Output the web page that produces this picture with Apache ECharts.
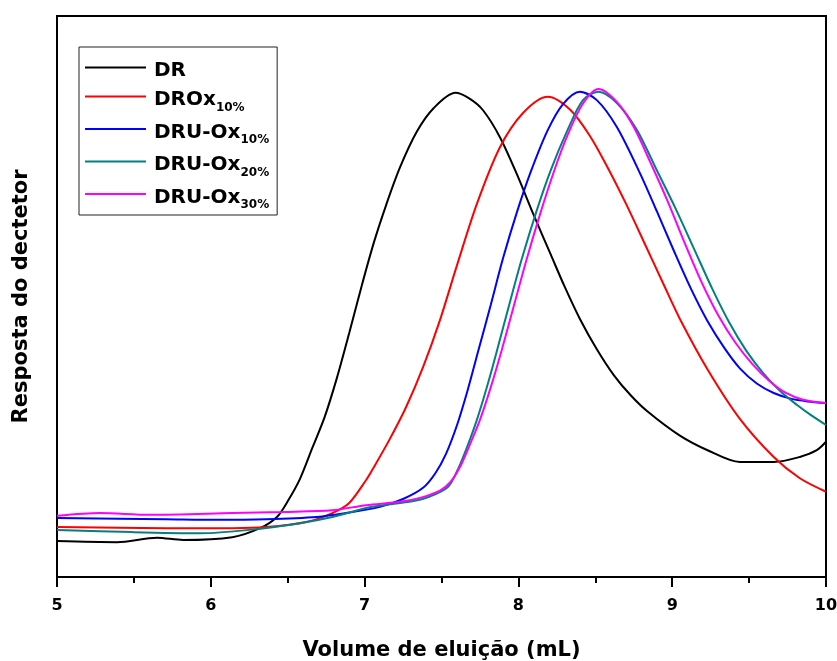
<!DOCTYPE html>
<html>
<head>
<meta charset="utf-8">
<script src="https://cdn.jsdelivr.net/npm/echarts@6/dist/echarts.min.js"></script>
<style>
  html, body { margin: 0; padding: 0; background: #fff; }
  #chart { width: 837px; height: 661px; }
</style>
</head>
<body>
<div id="chart"></div>
<script>
// Elution volume (mL) vs detector response (a.u.) for each sample
var drCurve = [[5.00,6.4],[5.39,6.2],[5.65,7.0],[5.82,6.6],[6.14,7.1],[6.32,8.7],[6.43,10.7],[6.50,13.5],[6.58,17.5],[6.66,23.0],[6.74,28.5],[6.82,35.5],[6.90,43.5],[6.98,51.8],[7.06,59.6],[7.14,66.3],[7.23,73.0],[7.34,79.4],[7.45,83.6],[7.59,86.3],[7.68,85.3],[7.77,83.2],[7.88,78.4],[7.99,71.8],[8.10,64.5],[8.21,57.5],[8.30,51.8],[8.40,46.0],[8.51,40.6],[8.62,36.0],[8.73,32.4],[8.84,29.5],[9.05,25.2],[9.23,22.6],[9.44,20.5],[9.66,20.5],[9.83,21.4],[9.94,22.6],[10.00,24.1]];
var droxCurve = [[5.00,8.9],[5.71,8.7],[6.14,8.7],[6.36,8.9],[6.62,9.8],[6.79,11.4],[6.90,13.2],[7.01,17.3],[7.05,19.1],[7.16,24.4],[7.27,30.3],[7.38,37.4],[7.49,45.8],[7.60,55.5],[7.73,66.5],[7.88,76.6],[8.03,82.7],[8.19,85.6],[8.34,83.2],[8.47,78.4],[8.58,73.0],[8.70,66.5],[8.82,59.5],[8.94,52.4],[9.05,46.0],[9.23,37.0],[9.44,28.2],[9.66,21.4],[9.83,17.6],[10.00,15.2]];
var druOx10Curve = [[5.00,10.5],[5.71,10.3],[6.04,10.2],[6.36,10.3],[6.69,10.7],[6.88,11.4],[7.10,12.5],[7.25,13.9],[7.38,15.9],[7.46,18.5],[7.53,22.0],[7.60,27.0],[7.67,33.3],[7.74,40.4],[7.82,48.5],[7.90,56.8],[7.99,65.0],[8.08,72.2],[8.19,79.6],[8.29,84.3],[8.40,86.5],[8.51,85.0],[8.64,80.2],[8.79,72.0],[8.90,65.2],[9.01,58.2],[9.12,51.5],[9.23,45.6],[9.34,40.8],[9.44,37.2],[9.55,34.5],[9.66,32.8],[9.77,31.8],[9.88,31.3],[10.00,31.0]];
var druOx20Curve = [[5.00,8.4],[5.49,8.0],[5.93,7.8],[6.25,8.4],[6.58,9.6],[6.79,10.7],[7.01,12.3],[7.12,12.8],[7.31,13.5],[7.42,14.3],[7.54,16.0],[7.60,18.8],[7.66,22.7],[7.73,28.0],[7.80,34.3],[7.87,41.3],[7.94,48.5],[8.02,56.5],[8.12,65.4],[8.21,72.5],[8.32,79.7],[8.42,85.0],[8.52,86.5],[8.64,84.5],[8.77,79.7],[8.90,72.5],[9.02,65.8],[9.15,58.0],[9.26,51.4],[9.37,45.4],[9.48,40.4],[9.59,36.4],[9.70,33.2],[9.81,30.7],[9.90,28.9],[10.00,27.1]];
var druOx30Curve = [[5.00,10.9],[5.28,11.4],[5.60,11.1],[6.14,11.4],[6.47,11.6],[6.79,11.9],[7.01,12.8],[7.23,13.4],[7.36,14.1],[7.49,15.4],[7.56,17.0],[7.62,19.6],[7.68,23.3],[7.75,28.0],[7.82,33.8],[7.89,40.3],[7.97,48.3],[8.05,56.3],[8.14,64.6],[8.23,72.2],[8.32,78.8],[8.42,84.4],[8.52,87.0],[8.64,84.7],[8.75,80.2],[8.86,73.8],[8.97,67.0],[9.08,59.6],[9.19,52.6],[9.30,46.6],[9.41,41.8],[9.52,38.0],[9.63,35.0],[9.74,32.8],[9.85,31.6],[10.00,31.0]];

var sampleBase = ['DR', 'DROx', 'DRU-Ox', 'DRU-Ox', 'DRU-Ox'];
var sampleSub = ['', '10%', '10%', '20%', '30%'];
var sampleColors = ['#000000', '#ff0000', '#0000ff', '#008080', '#ff00ff'];
var sampleCurves = [drCurve, droxCurve, druOx10Curve, druOx20Curve, druOx30Curve];

var xTicks = { min: 5, max: 10, interval: 1 };
var xTitle = 'Volume de eluição (mL)';
var yTitle = 'Resposta do dectetor';

var FONT = 'DejaVu Sans';

var seriesNames = sampleBase.map(function (b, i) { return b + sampleSub[i]; });

var series = sampleCurves.map(function (curve, i) {
  return {
    name: seriesNames[i],
    type: 'line',
    data: curve,
    symbol: 'none',
    smooth: 0.3,
    lineStyle: { color: sampleColors[i], width: 2 },
    itemStyle: { color: sampleColors[i] },
    z: 2 + i
  };
});

var chart = echarts.init(document.getElementById('chart'), null, { renderer: 'canvas' });

chart.setOption({
  animation: false,
  backgroundColor: '#ffffff',
  grid: {
    left: 57, right: 11, top: 16, bottom: 84,
    outerBoundsMode: 'none',
    containLabel: false,
    show: true, borderColor: '#000', borderWidth: 2, backgroundColor: 'transparent'
  },
  legend: {
    orient: 'vertical',
    left: 79, top: 47,
    padding: [7, 8, 4, 6],
    borderColor: '#222',
    borderWidth: 1,
    icon: 'rect',
    itemWidth: 61,
    itemHeight: 2,
    itemGap: 2,
    selectedMode: false,
    data: seriesNames,
    formatter: function (name) {
      var i = seriesNames.indexOf(name);
      if (!sampleSub[i]) {
        return '{solo|' + sampleBase[i] + '}';
      }
      return '{main|' + sampleBase[i] + '}{sub|' + sampleSub[i] + '}';
    },
    textStyle: {
      color: '#000',
      fontFamily: FONT,
      fontWeight: 'bold',
      fontSize: 20,
      rich: {
        solo: {
          fontFamily: FONT, fontWeight: 'bold', fontSize: 20, color: '#000',
          lineHeight: 16, padding: [7, 0, 0, 3]
        },
        main: {
          fontFamily: FONT, fontWeight: 'bold', fontSize: 20, color: '#000',
          lineHeight: 34, padding: [7, 0, 0, 3]
        },
        sub: {
          fontFamily: FONT, fontWeight: 'bold', fontSize: 12, color: '#000',
          lineHeight: 8, verticalAlign: 'bottom'
        }
      }
    }
  },
  xAxis: {
    type: 'value',
    min: xTicks.min,
    max: xTicks.max,
    interval: xTicks.interval,
    name: xTitle,
    nameLocation: 'middle',
    nameGap: 63,
    nameTextStyle: { fontFamily: FONT, fontWeight: 'bold', fontSize: 21, color: '#000' },
    axisLine: { show: true, onZero: false, lineStyle: { color: '#000', width: 2 } },
    axisTick: { show: true, inside: false, length: 10, lineStyle: { color: '#000', width: 2 } },
    minorTick: { show: true, splitNumber: 2, length: 6, lineStyle: { color: '#000', width: 2 } },
    axisLabel: { margin: 21, fontFamily: FONT, fontWeight: 'bold', fontSize: 16, color: '#000' },
    splitLine: { show: false }
  },
  yAxis: {
    type: 'value',
    min: 0,
    max: 100,
    name: yTitle,
    nameLocation: 'middle',
    nameGap: 25,
    nameTextStyle: { fontFamily: FONT, fontWeight: 'bold', fontSize: 21, color: '#000' },
    axisLine: { show: true, onZero: false, lineStyle: { color: '#000', width: 2 } },
    axisTick: { show: false },
    axisLabel: { show: false },
    splitLine: { show: false }
  },
  series: series
});
</script>
</body>
</html>
